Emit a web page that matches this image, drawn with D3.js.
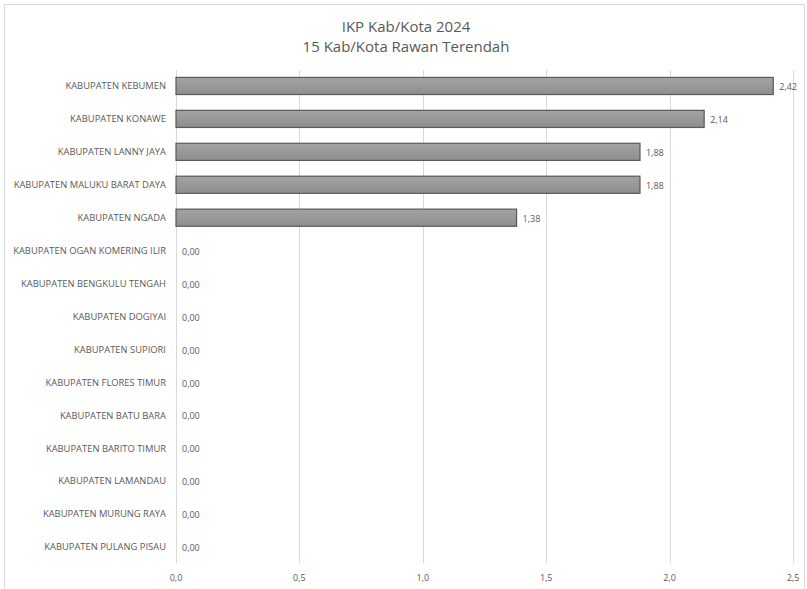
<!DOCTYPE html>
<html><head><meta charset="utf-8">
<script src="https://cdn.jsdelivr.net/npm/d3@7"></script>
<style>body{margin:0;background:#fff;} text{font-family:"Open Sans","Liberation Sans",sans-serif;}</style>
</head><body>
<svg id="c" width="807" height="589"></svg>
<script>
const categories = ["KABUPATEN KEBUMEN","KABUPATEN KONAWE","KABUPATEN LANNY JAYA","KABUPATEN MALUKU BARAT DAYA","KABUPATEN NGADA","KABUPATEN OGAN KOMERING ILIR","KABUPATEN BENGKULU TENGAH","KABUPATEN DOGIYAI","KABUPATEN SUPIORI","KABUPATEN FLORES TIMUR","KABUPATEN BATU BARA","KABUPATEN BARITO TIMUR","KABUPATEN LAMANDAU","KABUPATEN MURUNG RAYA","KABUPATEN PULANG PISAU"];
const values = [2.42,2.14,1.88,1.88,1.38,0,0,0,0,0,0,0,0,0,0];
const xTicks = [0,0.5,1.0,1.5,2.0,2.5];
const titleLines = ["IKP Kab/Kota 2024","15 Kab/Kota Rawan Terendah"];

const svg = d3.select("#c");
const fmt = (v,d)=>v.toFixed(d).replace(".",",");
svg.append("rect").attr("x",4.5).attr("y",4.5).attr("width",800).attr("height",620)
  .attr("fill","#fff").attr("stroke","#d9d9d9");

const defs = svg.append("defs");
const g = defs.append("linearGradient").attr("id","bg").attr("x1",0).attr("y1",0).attr("x2",0).attr("y2",1);
g.append("stop").attr("offset","0%").attr("stop-color","#a3a3a3");
g.append("stop").attr("offset","100%").attr("stop-color","#8e8e8e");

const x = d3.scaleLinear().domain([0,2.5]).range([176,793]);
const y = d3.scaleBand().domain(categories).range([69.5,563.5]).paddingInner(0.48).paddingOuter(0.24);

svg.selectAll(".title").data(titleLines).join("text")
  .attr("x",406).attr("y",(d,i)=>32+i*20).attr("text-anchor","middle")
  .attr("font-size",15).attr("fill","#595959").text(d=>d);

svg.selectAll(".grid").data(xTicks).join("line")
  .attr("x1",d=>Math.round(x(d))+0.5).attr("x2",d=>Math.round(x(d))+0.5)
  .attr("y1",70).attr("y2",563).attr("stroke","#d9d9d9").attr("stroke-width",1);

svg.selectAll(".xt").data(xTicks).join("text")
  .attr("x",d=>x(d)).attr("y",581).attr("text-anchor","middle")
  .attr("font-size",9).attr("fill","#595959").text(d=>fmt(d,1));

const cy = d=>y(d)+y.bandwidth()/2;
svg.selectAll(".cat").data(categories).join("text")
  .attr("x",166).attr("y",cy).attr("dy","0.35em").attr("text-anchor","end")
  .attr("font-size",9.4).attr("fill","#595959").text(d=>d);

svg.selectAll(".bar").data(categories).join("rect")
  .filter((d,i)=>values[i]>0)
  .attr("x",x(0)).attr("y",d=>y(d)).attr("width",d=>x(values[categories.indexOf(d)])-x(0))
  .attr("height",y.bandwidth()).attr("fill","url(#bg)").attr("stroke","#595959").attr("stroke-width",1.2);

svg.selectAll(".val").data(categories).join("text")
  .attr("x",(d,i)=>x(values[i])+6).attr("y",d=>cy(d)+1).attr("dy","0.35em")
  .attr("font-size",9).attr("fill","#595959").text((d,i)=>fmt(values[i],2));
</script>
</body></html>
